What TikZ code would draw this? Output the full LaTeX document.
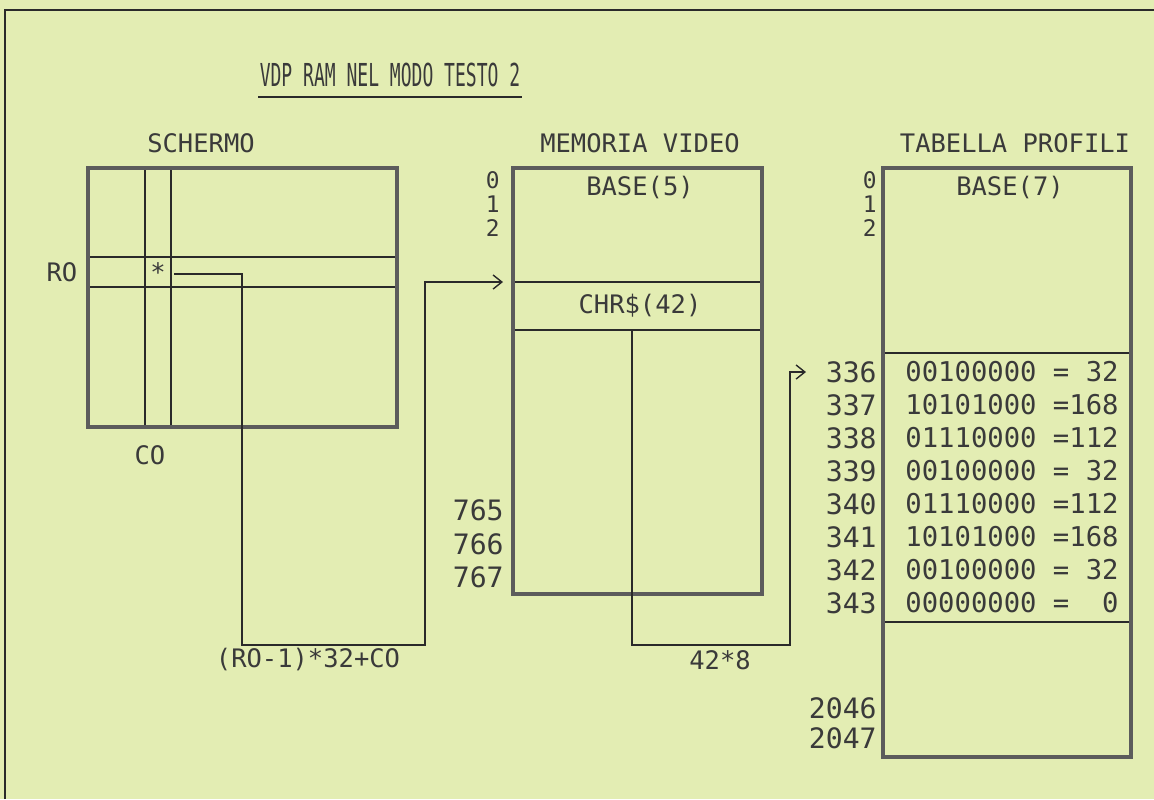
\documentclass[tikz,border=0pt]{standalone}
\usepackage{graphicx}
\usepackage{fontspec}
\setmainfont{DejaVu Sans Mono}
\usetikzlibrary{arrows.meta}
\definecolor{bg}{HTML}{E3EDB3}
\definecolor{ink}{HTML}{2A2A2A}
\definecolor{txtc}{HTML}{3A3A3A}
\definecolor{boxgray}{HTML}{5C5C5C}
\begin{document}
\begin{tikzpicture}[x=0.02cm,y=-0.02cm,
  txt/.style={inner sep=0pt, text=txtc, font=\fontsize{14.5}{15}\selectfont},
  numlbl/.style={inner sep=0pt, anchor=east, text=txtc, font=\fontsize{16}{17}\selectfont},
  smlbl/.style={inner sep=0pt, anchor=east, text=txtc, font=\fontsize{13}{14}\selectfont},
  rowtxt/.style={inner sep=0pt, text=txtc, font=\fontsize{15.5}{16}\selectfont},
  thinline/.style={draw=ink, line width=0.8pt},
  boxframe/.style={draw=boxgray, line width=2.7pt},
  conn/.style={draw=ink, line width=0.8pt, -{Straight Barb[length=5pt,width=8pt]}},
]
\fill[bg] (0,0) rectangle (1154,799);
\useasboundingbox (0,0) rectangle (1154,799);
% page frame
\draw[ink, line width=1.2pt] (5,799) -- (5,10) -- (1154,10);

% title
\node[txt, font=\fontsize{18}{19}\selectfont] (title) at (390,75) {\scalebox{0.57}[1]{VDP RAM NEL MODO TESTO 2}};
\draw[ink, line width=1pt] (258,97) -- (522,97);

% ---------- SCHERMO ----------
\node[txt] (tscr) at (201,143) {SCHERMO};
\draw[thinline] (145,168) -- (145,427);
\draw[thinline] (171,168) -- (171,427);
\draw[thinline] (88,257) -- (397,257);
\draw[thinline] (88,287) -- (397,287);
\draw[boxframe] (88,168) rectangle (397,427);
\node[txt] (star) at (158,272) {*};
\node[txt] (ro) at (62,272) {RO};
\node[txt] (co) at (150,455) {CO};
\coordinate (starR) at (174,274);
\coordinate (c1a) at (242,645);
\coordinate (c1b) at (425,645);

% ---------- MEMORIA VIDEO ----------
\node[txt] (tmem) at (640,143) {MEMORIA VIDEO};
\draw[thinline] (513,282) -- (762,282);
\draw[thinline] (513,330) -- (762,330);
\draw[boxframe] (513,168) rectangle (762,594);
\node[txt] (base5) at (640,188) {BASE(5)};
\node[txt] (chr) at (640,306) {CHR\$(42)};
\coordinate (chrIn) at (503,282);
\coordinate (chrBot) at (632,330);
\node[smlbl] (m0) at (500,180) {0};
\node[smlbl] (m1) at (500,204) {1};
\node[smlbl] (m2) at (500,228) {2};
\node[numlbl] (m765) at (504,510) {765};
\node[numlbl] (m766) at (504,544) {766};
\node[numlbl] (m767) at (504,577) {767};

% ---------- TABELLA PROFILI ----------
\node[txt] (ttab) at (1015,143) {TABELLA PROFILI};
\draw[thinline] (883,353) -- (1131,353);
\draw[thinline] (883,622) -- (1131,622);
\draw[boxframe] (883,168) rectangle (1131,757);
\node[txt] (base7) at (1010,188) {BASE(7)};
\node[smlbl] (t0) at (877,180) {0};
\node[smlbl] (t1) at (877,204) {1};
\node[smlbl] (t2) at (877,228) {2};
\node[numlbl] (r336) at (877,372) {336};
\node[numlbl] (r337) at (877,405) {337};
\node[numlbl] (r338) at (877,438) {338};
\node[numlbl] (r339) at (877,471) {339};
\node[numlbl] (r340) at (877,504) {340};
\node[numlbl] (r341) at (877,537) {341};
\node[numlbl] (r342) at (877,570) {342};
\node[numlbl] (r343) at (877,603) {343};
\node[rowtxt] (d336) at (1012,372) {00100000 =~32};
\node[rowtxt] (d337) at (1012,405) {10101000 =168};
\node[rowtxt] (d338) at (1012,438) {01110000 =112};
\node[rowtxt] (d339) at (1012,471) {00100000 =~32};
\node[rowtxt] (d340) at (1012,504) {01110000 =112};
\node[rowtxt] (d341) at (1012,537) {10101000 =168};
\node[rowtxt] (d342) at (1012,570) {00100000 =~32};
\node[rowtxt] (d343) at (1012,603) {00000000 =~~0};
\node[numlbl] (r2046) at (877,708) {2046};
\node[numlbl] (r2047) at (877,738) {2047};
\coordinate (c2a) at (632,645);
\coordinate (c2b) at (790,645);
\coordinate (r336In) at (806,372);

% ---------- connectors ----------
\draw[conn] (starR) -| (c1a) -- (c1b) |- (chrIn);
\draw[conn] (chrBot) -- (c2a) -- (c2b) |- (r336In);
\node[txt] (formula) at (308,660) {(RO-1)*32+CO};
\node[txt] (mul) at (720,660) {42*8};
\end{tikzpicture}
\end{document}
